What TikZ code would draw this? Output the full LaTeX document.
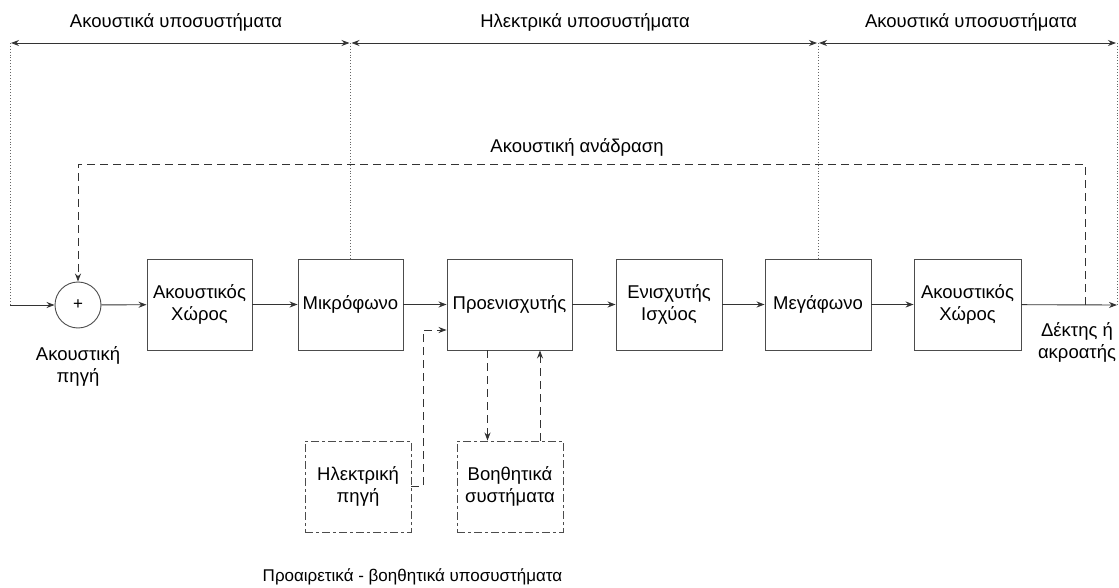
\documentclass[tikz,border=0pt]{standalone}
\usepackage{fontspec}
\setmainfont{Liberation Sans}
\usetikzlibrary{arrows.meta}
\usetikzlibrary{positioning}

\tikzset{
    block/.style={draw=black!70, line width=0.9pt, minimum height=91pt, align=center, font=\fontsize{18.5}{22}\selectfont},
    optblock/.style={block, dash pattern=on 8pt off 3pt on 3pt off 3pt},
    sig/.style={->, draw=black!80, line width=0.9pt},
    fb/.style={sig, dash pattern=on 8pt off 5pt},
    guide/.style={draw=black!60, line width=0.9pt, dotted},
    lbl/.style={align=center, font=\fontsize{18.5}{22}\selectfont}
}

\begin{document}
\begin{tikzpicture}[x=1pt, y=-1pt, >={Stealth[length=8pt,width=6pt]}]
    \useasboundingbox (0,0) rectangle (1119,588);
    % main chain
    \node[draw=black!70, line width=0.9pt, circle, minimum size=46pt, inner sep=0pt] (sum) at (78,305) {\fontsize{17}{17}\selectfont +};
    \node[block, minimum width=105pt] (room1) at (199.5,304.5) {Ακουστικός\\Χώρος};
    \node[block, minimum width=105pt] (mic) at (350.5,304.5) {Μικρόφωνο};
    \node[block, minimum width=125pt] (pre) at (509.5,304.5) {Προενισχυτής};
    \node[block, minimum width=106pt] (amp) at (669,304.5) {Ενισχυτής\\Ισχύος};
    \node[block, minimum width=106pt] (spk) at (818,304.5) {Μεγάφωνο};
    \node[block, minimum width=107pt] (room2) at (967.5,304.5) {Ακουστικός\\Χώρος};
    % optional subsystems
    \node[optblock, minimum width=106pt] (elec) at (358,486.5) {Ηλεκτρική\\πηγή};
    \node[optblock, minimum width=106pt] (aux) at (510,486.5) {Βοηθητικά\\συστήματα};
    % labels
    \node[lbl] (srclbl) at (78,366) {Ακουστική\\πηγή};
    \node[lbl] (rxlbl) at (1077,342) {Δέκτης ή\\ακροατής};
    \node[lbl] (fblbl) at (577,147) {Ακουστική ανάδραση};
    \node[lbl] (acA) at (176,22) {Ακουστικά υποσυστήματα};
    \node[lbl] (elA) at (585,22) {Ηλεκτρικά υποσυστήματα};
    \node[lbl] (acB) at (971,22) {Ακουστικά υποσυστήματα};
    \node[lbl, font=\fontsize{17}{20}\selectfont] (optlbl) at (412.5,577) {Προαιρετικά - βοηθητικά υποσυστήματα};
    % free ends
    \coordinate (in) at (10,305);
    \coordinate (out) at (1117,305);
    \coordinate (d0) at (10,43);
    \coordinate (d1) at (350.5,43);
    \coordinate (d2) at (818,43);
    \coordinate (d3) at (1117,43);
    \coordinate (fbtap) at (1085,305);
    \coordinate (fbtop) at (1085,164);
    \coordinate (elecbend) at (423,330);

    \draw[sig] (in) -- (sum);
    \draw[sig] (sum) -- (room1);
    \draw[sig] (room1) -- (mic);
    \draw[sig] (mic) -- (pre);
    \draw[sig] (pre) -- (amp);
    \draw[sig] (amp) -- (spk);
    \draw[sig] (spk) -- (room2);
    \draw[sig] (room2) -- (out);

    % feedback path
    \draw[fb] (fbtap) -- (fbtop) -| (sum.north);

    % optional paths
    \draw[fb] (elec.east) -| (elecbend) -- (elecbend -| pre.west);
    \draw[fb] ([xshift=-22pt]pre.south) -- ([xshift=-22pt]pre.south |- aux.north);
    \draw[fb] ([xshift=30pt]aux.north) -- ([xshift=30pt]aux.north |- pre.south);

    % subsystem ranges
    \draw[guide] (d0) -- (in);
    \draw[guide] (d1) -- (mic.north);
    \draw[guide] (d2) -- (spk.north);
    \draw[guide] (d3) -- (out);
    \draw[sig, <->, shorten <=1pt, shorten >=1pt] (d0) -- (d1);
    \draw[sig, <->, shorten <=1pt, shorten >=1pt] (d1) -- (d2);
    \draw[sig, <->, shorten <=1pt, shorten >=1pt] (d2) -- (d3);
\end{tikzpicture}
\end{document}
